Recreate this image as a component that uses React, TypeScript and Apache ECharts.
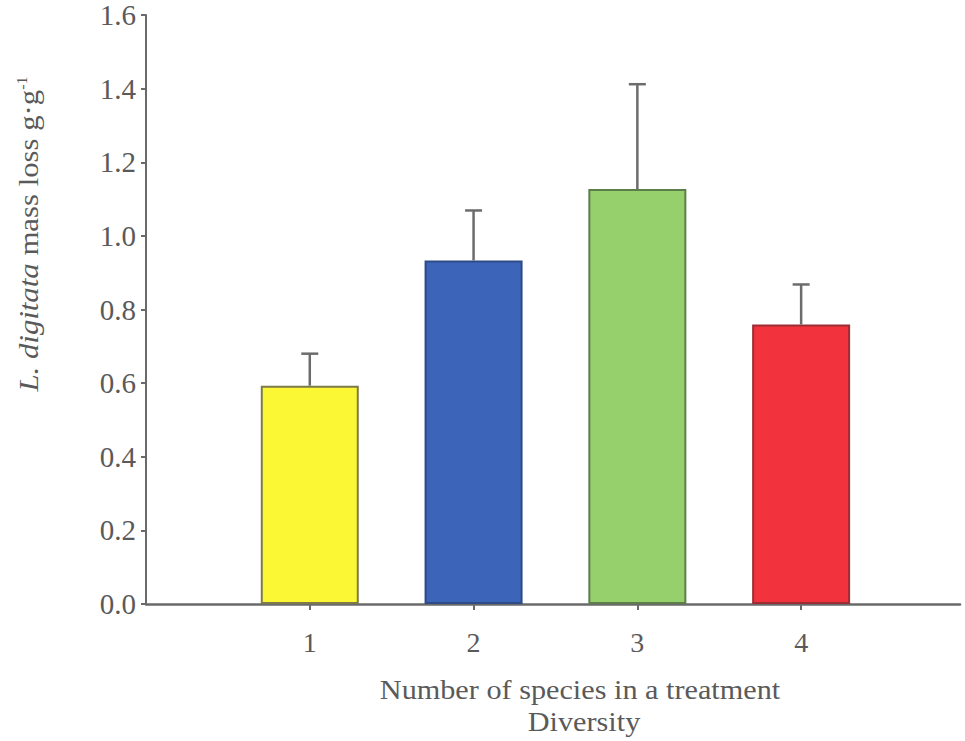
import React, { useEffect, useRef } from "react";
import * as echarts from "echarts";

// Species richness treatments and mean L. digitata mass loss (g·g⁻¹)
const diversity = [1, 2, 3, 4];
const massLoss = [0.593, 0.933, 1.127, 0.759];
const upperError = [0.68, 1.069, 1.412, 0.868];
const fillColors = ["#fbf734", "#3c64b8", "#95d06c", "#f2333d"];
const edgeColors = ["#7d7a4a", "#2d4b86", "#5d7d4a", "#9c2d34"];
const yTicks = [0, 0.2, 0.4, 0.6, 0.8, 1.0, 1.2, 1.4, 1.6];

const FONT = "Liberation Serif";
const INK = "#5a5a5a";
const FS = 28;

export default function App() {
  const ref = useRef<HTMLDivElement>(null);

  useEffect(() => {
    if (!ref.current) return;
    const chart = echarts.init(ref.current, undefined, { renderer: "svg" });

    const barData = diversity.map((d, i) => ({
      value: [d, massLoss[i]],
      itemStyle: {
        color: fillColors[i],
        borderColor: edgeColors[i],
        borderWidth: 2,
      },
    }));
    const errData = diversity.map((d, i) => [d, massLoss[i], upperError[i]]);

    chart.setOption({
      animation: false,
      backgroundColor: "#ffffff",
      grid: { left: 146, right: 5, top: 15, bottom: 137, containLabel: false },
      xAxis: {
        type: "value",
        min: 0,
        max: 4.97,
        interval: 1,
        splitLine: { show: false },
        axisLine: { lineStyle: { color: "#6a6a6a", width: 2.5 } },
        axisTick: {
          customValues: diversity,
          length: 6,
          lineStyle: { color: "#6a6a6a", width: 2 },
        },
        axisLabel: {
          customValues: diversity,
          color: INK,
          fontFamily: FONT,
          fontSize: FS,
          margin: 24,
        },
      },
      yAxis: {
        type: "value",
        min: 0,
        max: 1.6,
        interval: 0.2,
        splitLine: { show: false },
        axisLine: { show: true, lineStyle: { color: "#6a6a6a", width: 2 } },
        axisTick: {
          show: true,
          length: 5,
          customValues: yTicks,
          lineStyle: { color: "#6a6a6a", width: 2 },
        },
        axisLabel: {
          customValues: yTicks,
          color: INK,
          fontFamily: FONT,
          fontSize: 29,
          margin: 10,
          formatter: (v: number) => v.toFixed(1),
        },
      },
      graphic: [
        {
          type: "text",
          x: 29,
          y: 234,
          rotation: Math.PI / 2,
          scaleX: 1.14,
          style: {
            text: "{it|L. digitata} mass loss g·g{sup|-1}",
            align: "center",
            verticalAlign: "middle",
            fill: INK,
            fontFamily: FONT,
            fontSize: 27,
            rich: {
              it: { fontStyle: "italic", fontFamily: FONT, fontSize: 27, fill: INK },
              sup: { fontFamily: FONT, fontSize: 14, fill: INK, verticalAlign: "top", padding: [0, 0, 14, 0] },
            },
          },
        },
        {
          type: "text",
          x: 580,
          y: 690,
          scaleX: 1.12,
          style: {
            text: "Number of species in a treatment",
            align: "center",
            verticalAlign: "middle",
            fill: INK,
            fontFamily: FONT,
            fontSize: 27,
          },
        },
        {
          type: "text",
          x: 584,
          y: 722,
          scaleX: 1.12,
          style: {
            text: "Diversity",
            align: "center",
            verticalAlign: "middle",
            fill: INK,
            fontFamily: FONT,
            fontSize: 27,
          },
        },
      ],
      series: [
        {
          type: "bar",
          data: barData,
          barWidth: 98,
        },
        {
          type: "custom",
          data: errData,
          z: 3,
          renderItem: (params: any, api: any) => {
            const x = api.value(0);
            const base = api.coord([x, api.value(1)]);
            const top = api.coord([x, api.value(2)]);
            const half = 8.5;
            const style = { stroke: "#6c6c6c", lineWidth: 2.5 };
            return {
              type: "group",
              children: [
                { type: "line", shape: { x1: base[0], y1: base[1], x2: top[0], y2: top[1] }, style },
                { type: "line", shape: { x1: top[0] - half, y1: top[1], x2: top[0] + half, y2: top[1] }, style },
              ],
            };
          },
        },
      ],
    });

    return () => chart.dispose();
  }, []);

  return (
    <div
      ref={ref}
      style={{ position: "fixed", left: 0, top: 0, width: 965, height: 741 }}
    />
  );
}
